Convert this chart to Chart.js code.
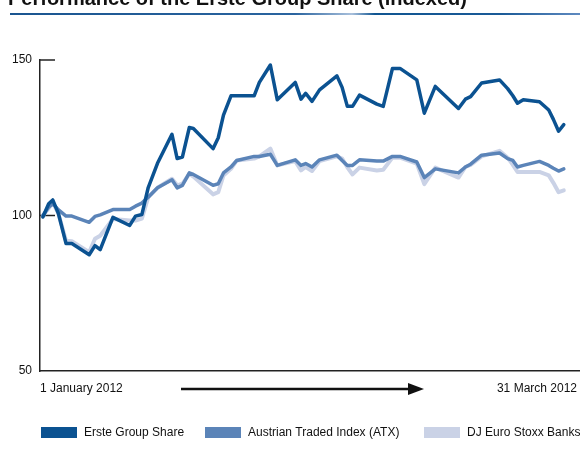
<!DOCTYPE html>
<html>
<head>
<meta charset="utf-8">
<script src="https://cdn.jsdelivr.net/npm/chart.js@4.4.0/dist/chart.umd.min.js"></script>
<style>
  body { margin: 0; background: #fff; }
</style>
</head>
<body>
<canvas id="chart" width="580" height="454"></canvas>
<script>
// days since 1 January 2012
const days = [0, 1, 1.7, 2.7, 4, 5, 8, 9, 9.9, 12.1, 15, 16, 17.1, 18.2, 19.8, 22.3, 23.2, 24.1, 25.3, 26,
  29.4, 30.3, 31.2, 32.5, 33.5, 36.5, 37.4, 39.3, 40.5, 43.6, 44.6, 45.4, 46.5, 47.8, 50.8, 51.7, 52.6, 53.5,
  54.7, 57.7, 58.8, 60.4, 61.7, 64.6, 65.9, 67.8, 71.8, 73, 73.9, 75.8, 78.9, 80.3, 81.2, 82, 83, 85.8, 87.4,
  88.2, 89.1, 90];

const erste = [99.5, 103.8, 105, 100.5, 91, 91, 87.4, 90.3, 89, 99.4, 96.8, 99.8, 100.3, 109, 116.8, 126.1,
  118.3, 118.8, 128.3, 128, 121.5, 125, 132.3, 138.5, 138.5, 138.5, 142.8, 148.4, 137.2, 142.8, 137.4, 139.3,
  136.7, 140.4, 144.9, 141.2, 135.1, 135.1, 138.7, 135.8, 135.1, 147.3, 147.3, 143.6, 132.9, 141.5, 134.4,
  137.4, 138.2, 142.6, 143.6, 140.8, 138.5, 136.1, 137.2, 136.6, 133.9, 130.9, 127.1, 129.2];

const atx = [100, 102.7, 103.8, 101.8, 99.8, 99.8, 97.8, 99.7, 100.2, 101.9, 101.9, 103, 104, 105.9, 108.9,
  111.5, 108.9, 109.7, 113.7, 113.2, 109.7, 110.2, 113.7, 115.6, 117.7, 119, 119, 119.7, 116.1, 117.9, 116.1,
  116.7, 115.6, 117.9, 119.4, 117.7, 116.1, 116.1, 117.9, 117.5, 117.5, 119, 119, 117.2, 112.2, 115, 113.7,
  115.6, 116.5, 119.4, 120.1, 118.3, 117.7, 115.6, 116.1, 117.4, 116.1, 115.2, 114.3, 115];

const banks = [100, 102.3, 104.3, 100.5, 91.9, 91.7, 88.2, 92.5, 93.5, 98.9, 98.4, 98.4, 99, 105.9, 108.9,
  111.8, 109.7, 110.2, 113.4, 112.5, 106.8, 107.5, 112.9, 115, 117.7, 118.3, 119, 121.5, 116.1, 117.5, 114.5,
  115.6, 114.3, 117.5, 119, 118.3, 115.5, 113.2, 115.4, 114.5, 114.7, 118.6, 118.6, 116.7, 110.1, 115.4, 112.2,
  115.6, 116.3, 119, 120.8, 118.6, 116.3, 114, 114, 114, 112.9, 110.5, 107.5, 108.1];

const yTicks = [50, 100, 150];
const seriesNames = ['Erste Group Share', 'Austrian Traded Index (ATX)', 'DJ Euro Stoxx Banks'];
const colors = ['#0b5291', '#5b84b8', '#cad2e6'];

const fontFamily = '"Liberation Sans", Arial, sans-serif';

function points(values) {
  return days.map((d, i) => ({ x: d, y: values[i] }));
}

const extras = {
  id: 'extras',
  beforeDatasetsDraw(chart) {
    const ctx = chart.ctx;
    const y = chart.scales.y;
    const left = chart.chartArea.left;
    ctx.save();
    ctx.strokeStyle = '#222';
    ctx.lineWidth = 1.5;
    [100, 150].forEach(v => {
      const py = y.getPixelForValue(v);
      ctx.beginPath();
      ctx.moveTo(left, py);
      ctx.lineTo(left + 15, py);
      ctx.stroke();
    });
    ctx.restore();
  },
  afterDraw(chart) {
    const ctx = chart.ctx;
    ctx.save();

    // title, cut off at the top
    ctx.fillStyle = '#111';
    ctx.font = 'bold 20px ' + fontFamily;
    ctx.textBaseline = 'alphabetic';
    ctx.fillText('Performance of the Erste Group Share (indexed)', 8, 5);

    // rule under title
    const g = ctx.createLinearGradient(10, 0, 580, 0);
    g.addColorStop(0, '#1a5590');
    g.addColorStop(0.5, '#2a649f');
    g.addColorStop(0.6, '#a9c0dc');
    g.addColorStop(0.64, '#105591');
    g.addColorStop(0.86, '#1a5a97');
    g.addColorStop(1, '#5f8ac0');
    ctx.fillStyle = g;
    ctx.fillRect(10, 13, 570, 2);

    // x axis labels and arrow
    ctx.fillStyle = '#111';
    ctx.font = '12px ' + fontFamily;
    ctx.textBaseline = 'middle';
    ctx.textAlign = 'left';
    ctx.fillText('1 January 2012', 40, 389);
    ctx.textAlign = 'right';
    ctx.fillText('31 March 2012', 577, 389);

    ctx.strokeStyle = '#111';
    ctx.lineWidth = 2.5;
    ctx.beginPath();
    ctx.moveTo(181, 389);
    ctx.lineTo(410, 389);
    ctx.stroke();
    ctx.beginPath();
    ctx.moveTo(408, 383);
    ctx.lineTo(424, 389);
    ctx.lineTo(408, 395);
    ctx.closePath();
    ctx.fill();

    // legend
    const boxX = [41, 205, 424];
    ctx.font = '12px ' + fontFamily;
    ctx.textAlign = 'left';
    seriesNames.forEach((name, i) => {
      ctx.fillStyle = colors[i];
      ctx.fillRect(boxX[i], 427, 36, 11);
      ctx.fillStyle = '#111';
      ctx.fillText(name, boxX[i] + 43, 433);
    });

    ctx.restore();
  }
};

new Chart(document.getElementById('chart'), {
  type: 'line',
  data: {
    datasets: [
      { label: seriesNames[0], data: points(erste), borderColor: colors[0], borderWidth: 3.5 },
      { label: seriesNames[1], data: points(atx), borderColor: colors[1], borderWidth: 3.5 },
      { label: seriesNames[2], data: points(banks), borderColor: colors[2], borderWidth: 4 }
    ]
  },
  options: {
    responsive: false,
    animation: false,
    devicePixelRatio: 1,
    layout: { padding: { top: 60, bottom: 83, left: 0, right: 0 } },
    elements: {
      line: { tension: 0, borderJoinStyle: 'round', borderCapStyle: 'round' },
      point: { radius: 0 }
    },
    plugins: {
      legend: { display: false },
      tooltip: { enabled: false }
    },
    scales: {
      x: {
        type: 'linear',
        min: -0.5,
        max: 92.8,
        ticks: { display: false },
        grid: { display: false, drawTicks: false },
        border: { display: true, color: '#222', width: 1.5 },
        afterFit(scale) { scale.height = 0; }
      },
      y: {
        min: 50,
        max: 150,
        afterBuildTicks(scale) { scale.ticks = yTicks.map(v => ({ value: v })); },
        ticks: { color: '#111', padding: 8, font: { size: 12, family: fontFamily } },
        grid: { display: false, drawTicks: false },
        border: { display: true, color: '#222', width: 1.5 },
        afterFit(scale) { scale.width = 40; }
      }
    }
  },
  plugins: [extras]
});
</script>
</body>
</html>
